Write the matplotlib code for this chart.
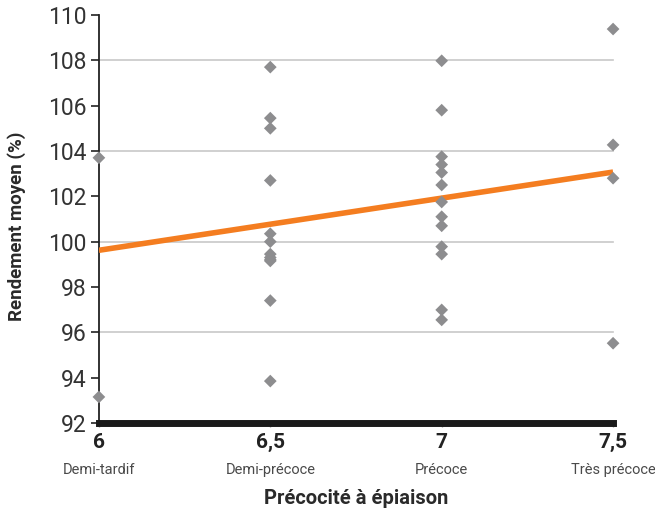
import numpy as np
import matplotlib
matplotlib.use("Agg")
import matplotlib.pyplot as plt
from matplotlib.transforms import blended_transform_factory

plt.rcParams['font.family'] = ['Roboto', 'DejaVu Sans']

# Précocité à épiaison (note) et rendement moyen (%) de chaque variété
x_6 = [6.0, 6.0]
y_6 = [103.7, 93.15]
x_65 = [6.5] * 12
y_65 = [107.7, 105.45, 105.0, 102.7, 100.35, 100.0, 99.45, 99.3, 99.15, 97.4, 93.85, 99.2]
x_7 = [7.0] * 13
y_7 = [107.98, 105.8, 103.75, 103.4, 103.05, 102.5, 101.75, 101.1, 100.7, 99.78, 99.45, 96.99, 96.55]
x_75 = [7.5] * 4
y_75 = [109.38, 104.27, 102.8, 95.52]

tick_values = [6, 6.5, 7, 7.5]
tick_labels = ["6", "6,5", "7", "7,5"]
categories = ["Demi-tardif", "Demi-précoce", "Précoce", "Très précoce"]

# Droite de tendance
trend_x = [6.0, 7.5]
trend_y = [99.62, 103.07]

xs = np.array(x_6 + x_65 + x_7 + x_75)
ys = np.array(y_6 + y_65 + y_7 + y_75)

fig = plt.figure(figsize=(6.55, 5.13), dpi=100)
ax = fig.add_axes([0.151, 0.1754, 0.785, 0.7954])

ax.set_xlim(6, 7.5)
ax.set_ylim(92, 110)

for gy in [96, 100, 104, 108]:
    ax.plot([6, 7.5], [gy, gy], color="#c8c8c8", lw=1.2, zorder=1, clip_on=False)

ax.plot(trend_x, trend_y, color="#f47d20", lw=4, zorder=3, solid_capstyle="butt")

ax.scatter(xs, ys, marker="D", s=42, color="#8d8d8f", edgecolors="none",
           zorder=4, clip_on=False)

for s in ["top", "right"]:
    ax.spines[s].set_visible(False)
ax.spines["left"].set_color("#222222")
ax.spines["left"].set_linewidth(1.3)
ax.spines["bottom"].set_color("#1a1a1a")
ax.spines["bottom"].set_linewidth(5)
ax.spines["bottom"].set_zorder(5)

ax.set_yticks(np.arange(92, 111, 2))
ax.tick_params(axis="y", direction="out", length=6, width=1.2, color="#222222",
               labelsize=16.5, labelcolor="#333333", pad=3)
ax.set_xticks(tick_values)
ax.set_xticklabels(tick_labels, fontweight="bold")
ax.tick_params(axis="x", direction="out", length=3, width=1, color="#999999",
               labelsize=15, labelcolor="#222222", pad=4)

trans = blended_transform_factory(ax.transData, fig.transFigure)
for xv, cat in zip(tick_values, categories):
    ax.text(xv, 1 - 470 / 513, cat, transform=trans, ha="center", va="center",
            fontsize=10.5, color="#4a4a4a")

fig.text(356 / 655, 1 - 498 / 513, "Précocité à épiaison", ha="center",
         va="center", fontsize=14.5, fontweight="bold", color="#2a2a2a")
fig.text(17 / 655, 1 - 226 / 513, "Rendement moyen (%)", rotation=90, ha="center",
         va="center", fontsize=13.5, fontweight="bold", color="#2a2a2a")

fig.savefig("out.png", dpi=100)
